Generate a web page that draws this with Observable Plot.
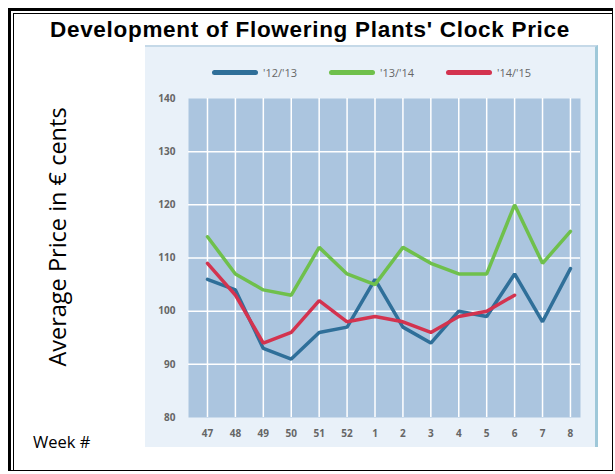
<!DOCTYPE html>
<html><head><meta charset="utf-8">
<script src="https://cdn.jsdelivr.net/npm/d3@7"></script>
<script src="https://cdn.jsdelivr.net/npm/@observablehq/plot@0.6"></script>
<style>
html,body{margin:0;padding:0;background:#fff;}
body{width:615px;height:474px;overflow:hidden;position:relative;font-family:"Liberation Sans",Arial,sans-serif;}
#outer{position:absolute;left:8px;top:8px;width:601px;height:459px;border-left:3px solid #000;border-top:3px solid #000;border-right:1px solid #000;border-bottom:1px solid #000;}
#inner{position:absolute;left:13px;top:13px;width:599px;height:457px;border-left:1px solid #000;border-top:1px solid #000;}
#title{position:absolute;left:0;width:620px;top:17px;text-align:center;font-weight:bold;font-size:22.5px;letter-spacing:0.7px;color:#000;white-space:nowrap;}
#ylab{position:absolute;left:57px;top:237px;transform:translate(-50%,-50%) rotate(-90deg);white-space:nowrap;font-family:"Open Sans",sans-serif;font-size:23.5px;color:#000;}
#week{position:absolute;left:33px;top:430px;font-family:"Open Sans",sans-serif;font-size:16.5px;color:#000;}
#panel{position:absolute;left:145px;top:45px;width:453px;height:402px;background:#e9f1f9;border-top:2px solid #c5d9e8;border-right:3px solid #9fc8d9;box-sizing:border-box;}
#chart{position:absolute;left:145px;top:45px;}
#legend{position:absolute;top:65px;left:212px;display:flex;font-family:"Open Sans",sans-serif;font-size:11px;color:#666;}
.item{display:flex;align-items:center;margin-right:32px;}
.sw{width:46px;height:5px;border-radius:2.5px;margin-right:5px;}
</style></head>
<body>
<div id="outer"></div><div id="inner"></div>
<div id="title">Development of Flowering Plants' Clock Price</div>
<div id="ylab">Average Price in € cents</div>
<div id="week">Week #</div>
<div id="panel"></div>
<div id="chart"></div>
<div id="legend"></div>
<script>
const weeks = ["47","48","49","50","51","52","1","2","3","4","5","6","7","8"];
const series = ["'12/'13","'13/'14","'14/'15"];
const colors = ["#2f6f99","#6fc04c","#d3334f"];
const s1213 = [106,104,93,91,96,97,106,97,94,100,99,107,98,108];
const s1314 = [114,107,104,103,112,107,105,112,109,107,107,120,109,115];
const s1415 = [109,103,94,96,102,98,99,98,96,99,100,103];
const yTicks = [80,90,100,110,120,130,140];
const yGrid = [90,100,110,120,130];

const rows = [];
[s1213, s1314, s1415].forEach((arr, k) => arr.forEach((v, i) => rows.push({i, v, s: series[k]})));
const idx = weeks.map((w, i) => i);

const chart = Plot.plot({
  width: 453, height: 402,
  marginLeft: 43, marginTop: 53, marginRight: 18, marginBottom: 30,
  style: {background: "transparent", fontFamily: "'Open Sans', sans-serif", fontSize: "10px", color: "#666"},
  x: {type: "linear", domain: [-0.68, 13.36], axis: null},
  y: {domain: [80, 140], axis: null},
  color: {domain: series, range: colors},
  marks: [
    Plot.frame({fill: "#abc5df", stroke: null}),
    Plot.ruleX(idx, {stroke: "#fff", strokeWidth: 1.5}),
    Plot.ruleY(yGrid, {stroke: "#fff", strokeWidth: 1.5}),
    Plot.axisY({ticks: yTicks, tickSize: 0, tickPadding: 13, label: null, fill: "#666", fontWeight: "bold"}),
    Plot.axisX({ticks: idx, tickFormat: i => weeks[i], tickSize: 0, tickPadding: 12, label: null, fill: "#666", fontWeight: "bold"}),
    Plot.line(rows, {x: "i", y: "v", z: "s", stroke: "s", strokeWidth: 3.5, strokeLinejoin: "miter"})
  ]
});
document.getElementById("chart").appendChild(chart);

const lg = document.getElementById("legend");
series.forEach((s, k) => {
  const it = document.createElement("div"); it.className = "item";
  const sw = document.createElement("div"); sw.className = "sw"; sw.style.background = colors[k];
  const t = document.createElement("span"); t.textContent = s;
  it.appendChild(sw); it.appendChild(t); lg.appendChild(it);
});
</script>
</body></html>
